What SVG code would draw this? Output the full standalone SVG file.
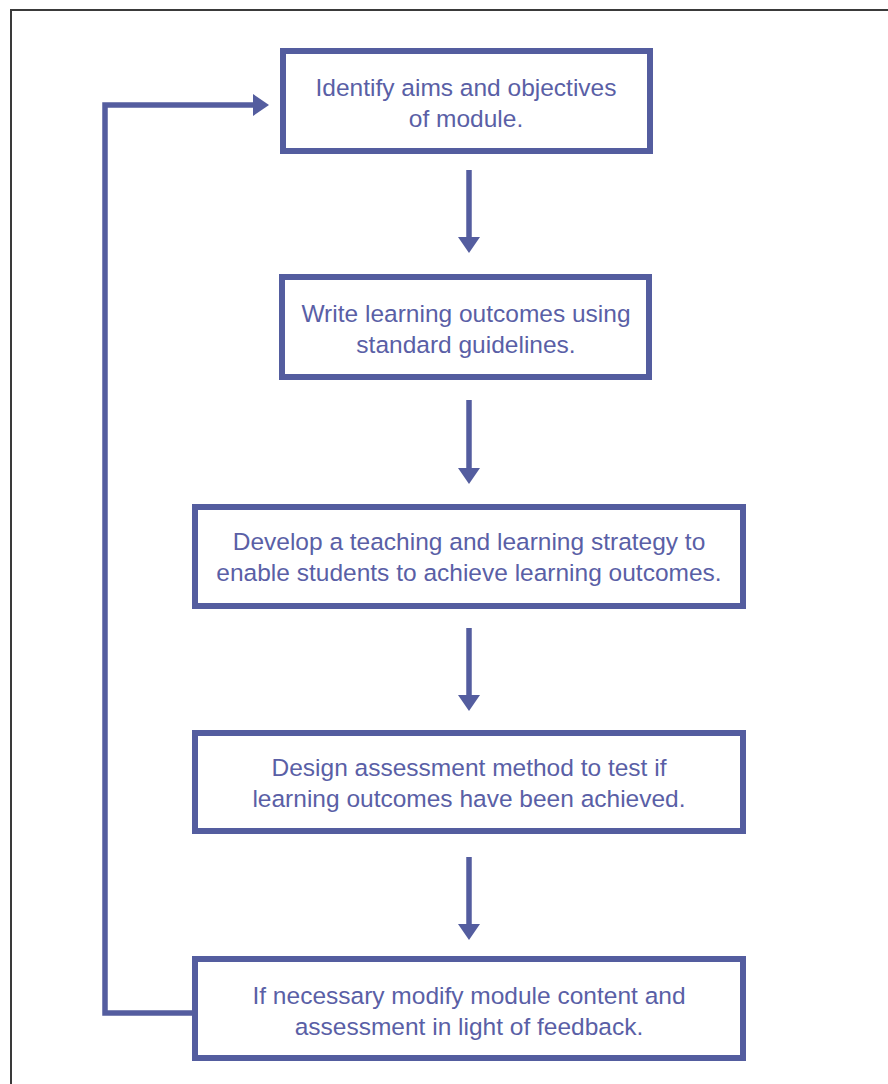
<svg xmlns="http://www.w3.org/2000/svg" width="888" height="1084" viewBox="0 0 888 1084">
<style>
.box{fill:#ffffff;stroke:#545d9f;stroke-width:6}
.lbl{font-family:"Liberation Sans",Arial,sans-serif;font-size:24.5px;fill:#5a5fa6;text-anchor:middle}
.conn{fill:none;stroke:#545d9f;stroke-width:5.5}
.frame{fill:none;stroke:#3a3a3a;stroke-width:2}
</style>
<defs>
<marker id="ah" markerUnits="userSpaceOnUse" markerWidth="16" markerHeight="22" viewBox="0 0 16 22" refX="2" refY="11" orient="auto">
<path d="M0,0 L16,11 L0,22 z" fill="#545d9f"/>
</marker>
</defs>
<rect width="888" height="1084" fill="#ffffff"/>
<path class="frame" d="M11,1084 V10 H888"/>
<g id="connectors">
<line class="conn" x1="469" y1="170" x2="469" y2="239" marker-end="url(#ah)"/>
<line class="conn" x1="469" y1="400" x2="469" y2="470" marker-end="url(#ah)"/>
<line class="conn" x1="469" y1="628" x2="469" y2="697" marker-end="url(#ah)"/>
<line class="conn" x1="469" y1="857" x2="469" y2="926" marker-end="url(#ah)"/>
<path class="conn" d="M192,1013 H105 V105 H255" marker-end="url(#ah)"/>
</g>
<g id="node1">
<rect class="box" x="283" y="51" width="367" height="100"/>
<text class="lbl" x="466" y="96">Identify aims and objectives</text>
<text class="lbl" x="466" y="127">of module.</text>
</g>
<g id="node2">
<rect class="box" x="282" y="277" width="367" height="100"/>
<text class="lbl" x="466" y="322">Write learning outcomes using</text>
<text class="lbl" x="466" y="353">standard guidelines.</text>
</g>
<g id="node3">
<rect class="box" x="195" y="507" width="548" height="99"/>
<text class="lbl" x="469" y="550">Develop a teaching and learning strategy to</text>
<text class="lbl" x="469" y="581">enable students to achieve learning outcomes.</text>
</g>
<g id="node4">
<rect class="box" x="195" y="733" width="548" height="98"/>
<text class="lbl" x="469" y="776">Design assessment method to test if</text>
<text class="lbl" x="469" y="807">learning outcomes have been achieved.</text>
</g>
<g id="node5">
<rect class="box" x="195" y="959" width="548" height="99"/>
<text class="lbl" x="469" y="1004">If necessary modify module content and</text>
<text class="lbl" x="469" y="1035">assessment in light of feedback.</text>
</g>
</svg>
